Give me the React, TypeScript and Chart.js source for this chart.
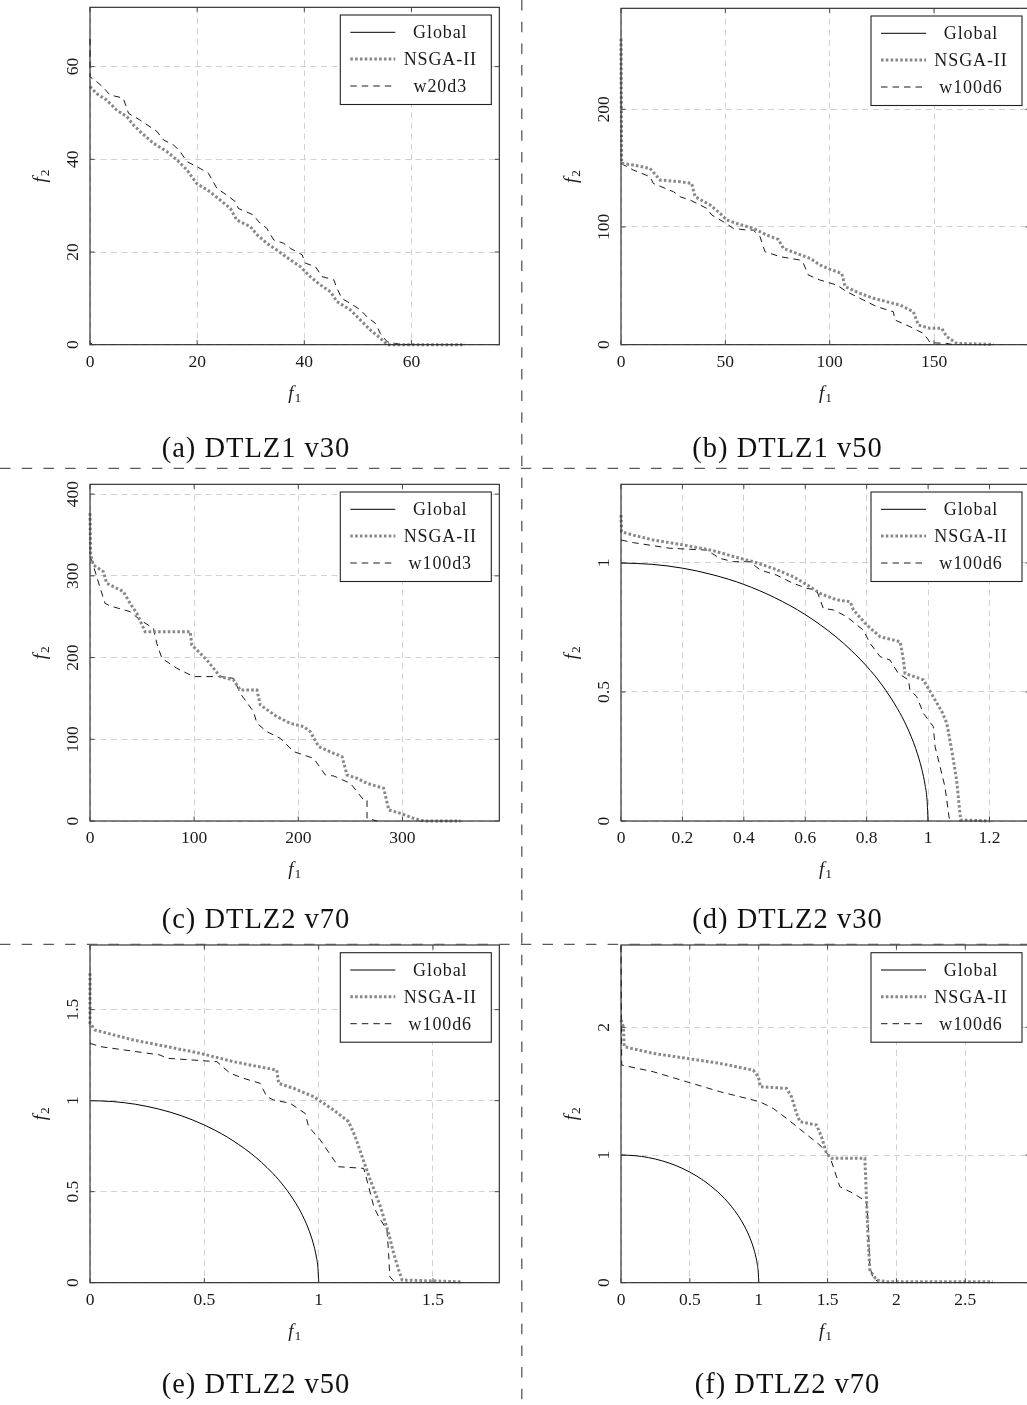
import React, { useEffect, useRef } from 'react';
import { Chart, registerables } from 'chart.js';

Chart.register(...registerables);

// ---------- text ----------
const SERIES_LABELS = ['Global', 'NSGA-II'];
const W_LABELS = ['w20d3', 'w100d6', 'w100d3', 'w100d6', 'w100d6', 'w100d6'];
const CAPTIONS = ['(a) DTLZ1 v30', '(b) DTLZ1 v50', '(c) DTLZ2 v70', '(d) DTLZ2 v30', '(e) DTLZ2 v50', '(f) DTLZ2 v70'];

// ---------- axes ----------
const X_MAX = [76.4, 196, 393, 1.332, 1.79, 2.97];
const Y_MAX = [72.8, 285.8, 412, 1.305, 1.855, 2.645];
const X_TICKS = [[0, 20, 40, 60], [0, 50, 100, 150], [0, 100, 200, 300], [0, 0.2, 0.4, 0.6, 0.8, 1, 1.2], [0, 0.5, 1, 1.5], [0, 0.5, 1, 1.5, 2, 2.5]];
const Y_TICKS = [[0, 20, 40, 60], [0, 100, 200], [0, 100, 200, 300, 400], [0, 0.5, 1], [0, 0.5, 1, 1.5], [0, 1, 2]];

// ---------- data: [f1, f2] ----------
const DTLZ1_GLOBAL = [[0, 0.5], [0.5, 0]];
const DTLZ2_GLOBAL = [[0, 1], [0.1, 0.995], [0.2, 0.98], [0.3, 0.954], [0.4, 0.917], [0.5, 0.866], [0.6, 0.8], [0.7, 0.714], [0.75, 0.661], [0.8, 0.6], [0.85, 0.527], [0.9, 0.436], [0.93, 0.368], [0.96, 0.28], [0.98, 0.199], [0.99, 0.141], [0.997, 0.077], [1, 0]];

const A_NSGA = [[0, 55.7], [1.2, 54.2], [3.1, 52.8], [5, 50.6], [6.9, 49.2], [8.1, 47.4], [10, 45.3], [11.8, 43.5], [14.3, 41.7], [16.2, 39.9], [18.1, 37.7], [19.9, 34.8], [22.4, 33], [24.3, 31.2], [26.2, 29.4], [27.4, 26.9], [29.9, 25.5], [31.2, 23.7], [33, 21.9], [34.9, 20.4], [37.4, 18.3], [39.3, 16.8], [41.1, 14.7], [43, 12.9], [44.9, 11.4], [46.1, 9.3], [48.6, 7.5], [50.5, 5.3], [52.3, 3.2], [54.2, 1.4], [55.5, 0], [70, 0]];
const A_W = [[0, 66], [0, 57.8], [1.2, 56.8], [2.5, 55.5], [3.7, 53.9], [6.2, 53.2], [7.2, 49.9], [9.3, 48.5], [12.5, 46], [13.7, 44.2], [15.6, 43.1], [16.8, 41.7], [18.1, 39.5], [20.6, 38], [22.1, 37], [23.7, 33.7], [25.5, 32.3], [27.1, 30.9], [27.7, 29.4], [30.5, 28], [31.5, 26.5], [33, 25.1], [34.3, 22.6], [36.1, 21.9], [37.4, 20.8], [39.6, 19.4], [40.2, 17.6], [42.1, 16.8], [43.3, 14.7], [45.5, 14], [46.1, 12.2], [47, 10], [48.6, 8.9], [50.5, 7.5], [51.7, 6], [53.3, 4.6], [54.2, 2.4], [55.5, 0.6], [57.9, 0.1], [60.4, 0]];

const B_NSGA = [[0, 260], [0.3, 154], [5.9, 152.6], [13.9, 149.8], [18.7, 139.9], [28.3, 138.5], [33.9, 137], [35.5, 125.7], [42.7, 118.7], [47.5, 111.6], [50.7, 105.9], [55.5, 103], [63.4, 98.8], [69.8, 93.2], [75.4, 89.5], [77.8, 81.8], [84.2, 77.6], [90.6, 73.3], [95.4, 67.7], [100.2, 64], [105.8, 60.6], [107.4, 49.3], [114.6, 43.6], [121, 39.4], [127.4, 36.5], [133.7, 33.7], [140.1, 28], [142.5, 16.7], [148.1, 13.9], [153.7, 13.9], [156.1, 6.8], [160.9, 1.1], [178.5, 0.3]];
const B_W = [[0, 154], [5.9, 148.4], [13.9, 142.7], [15.5, 137], [25.1, 130], [28.3, 125.7], [33.1, 122.9], [37.9, 118.7], [41.1, 115.8], [43.5, 110.2], [49, 104.5], [53.9, 98.8], [60.2, 97.4], [63.4, 97.4], [66.6, 91.8], [69, 79], [76.2, 74.8], [85.8, 71.9], [87.4, 69.1], [89.8, 59.2], [95.4, 54.9], [103.4, 50.7], [108.2, 45], [116.2, 37.9], [122.6, 32.3], [130.5, 28], [131.3, 21], [138.5, 15.3], [144.9, 9.6], [147.3, 4], [148.1, 1.7], [156.1, 1.1], [159.3, 0]];

const C_NSGA = [[0, 376.6], [0.6, 325.6], [3.2, 313.3], [12.8, 305.2], [16, 290.9], [32, 280.7], [38.5, 266.4], [44.9, 254.2], [52.9, 231.7], [96.2, 231.7], [97.8, 215.4], [112.2, 197], [125, 176.7], [137.8, 172.6], [144.2, 160.3], [160.3, 160.3], [163.5, 142], [179.5, 127.7], [192.3, 119.5], [205.1, 115.5], [211.5, 109.3], [219.6, 91], [234, 82.8], [242, 78.7], [246.8, 56.3], [256.4, 52.2], [266, 46.1], [282, 40], [286.9, 13.5], [298.1, 9.4], [310.9, 3.3], [320.5, 0], [355.8, 0]];
const C_W = [[0, 322], [1.6, 319.5], [6.4, 299], [14.4, 266.4], [19.2, 263.2], [38.5, 256.2], [48.1, 246], [60.9, 235.8], [64.1, 217.5], [69, 199.1], [83.3, 186.9], [99.4, 176.7], [125, 176.7], [137.8, 174.6], [144.2, 156.3], [157, 133.8], [160.3, 119.5], [169.9, 109.3], [182.7, 101.2], [195.5, 84.9], [214.7, 76.7], [226, 56.3], [234, 55.1], [250, 46.1], [262.8, 25.7], [266, 25.7], [266, 3.3], [275.6, 0]];

const D_NSGA = [[0, 1.186], [0.002, 1.121], [0.04, 1.108], [0.105, 1.089], [0.203, 1.07], [0.279, 1.053], [0.312, 1.044], [0.366, 1.025], [0.431, 1.005], [0.496, 0.979], [0.561, 0.947], [0.616, 0.908], [0.648, 0.882], [0.702, 0.857], [0.746, 0.85], [0.757, 0.818], [0.8, 0.76], [0.844, 0.714], [0.909, 0.695], [0.92, 0.624], [0.925, 0.572], [0.985, 0.547], [1.001, 0.514], [1.045, 0.424], [1.061, 0.379], [1.077, 0.275], [1.093, 0.159], [1.106, 0.004], [1.202, 0]];
const D_W = [[0, 1.089], [0.04, 1.079], [0.16, 1.057], [0.279, 1.05], [0.322, 1.018], [0.366, 1.005], [0.42, 1.005], [0.453, 0.973], [0.507, 0.953], [0.561, 0.921], [0.605, 0.902], [0.637, 0.895], [0.659, 0.824], [0.692, 0.818], [0.735, 0.792], [0.768, 0.76], [0.789, 0.74], [0.811, 0.689], [0.844, 0.637], [0.876, 0.624], [0.903, 0.572], [0.936, 0.547], [0.941, 0.508], [0.963, 0.482], [0.985, 0.417], [1.017, 0.366], [1.023, 0.288], [1.055, 0.133], [1.069, 0.01], [1.08, 0]];

const E_NSGA = [[0, 1.7], [0, 1.425], [0.022, 1.388], [0.19, 1.333], [0.336, 1.297], [0.482, 1.26], [0.628, 1.214], [0.773, 1.178], [0.817, 1.168], [0.825, 1.095], [0.89, 1.068], [0.978, 1.022], [1.065, 0.949], [1.131, 0.885], [1.16, 0.802], [1.19, 0.692], [1.226, 0.564], [1.27, 0.418], [1.306, 0.271], [1.328, 0.161], [1.35, 0.07], [1.365, 0.015], [1.62, 0.005]];
const E_W = [[0, 1.315], [0.044, 1.297], [0.306, 1.251], [0.336, 1.233], [0.555, 1.214], [0.613, 1.15], [0.671, 1.123], [0.744, 1.095], [0.773, 1.022], [0.803, 1.004], [0.876, 0.985], [0.941, 0.93], [0.956, 0.857], [1.007, 0.784], [1.087, 0.637], [1.197, 0.628], [1.219, 0.527], [1.241, 0.418], [1.262, 0.363], [1.299, 0.289], [1.306, 0.161], [1.311, 0.033], [1.335, 0]];

const F_NSGA = [[0, 2.06], [0.017, 2.005], [0.024, 1.848], [0.235, 1.796], [0.477, 1.757], [0.718, 1.718], [0.96, 1.665], [0.997, 1.613], [1.013, 1.535], [1.202, 1.522], [1.238, 1.457], [1.275, 1.326], [1.299, 1.261], [1.42, 1.235], [1.456, 1.143], [1.492, 1.013], [1.529, 0.974], [1.771, 0.974], [1.783, 0.647], [1.795, 0.334], [1.807, 0.099], [1.855, 0.021], [1.928, 0.008], [2.7, 0.008]];
const F_W = [[0, 2.64], [0.005, 1.705], [0.235, 1.652], [0.477, 1.574], [0.718, 1.496], [1.009, 1.417], [1.105, 1.365], [1.202, 1.287], [1.323, 1.182], [1.444, 1.078], [1.517, 0.987], [1.589, 0.752], [1.686, 0.7], [1.783, 0.634], [1.795, 0.465], [1.807, 0.125], [1.831, 0.034], [1.867, 0.008]];

const GLOBALS = [DTLZ1_GLOBAL, DTLZ1_GLOBAL, DTLZ2_GLOBAL, DTLZ2_GLOBAL, DTLZ2_GLOBAL, DTLZ2_GLOBAL];
const NSGAS = [A_NSGA, B_NSGA, C_NSGA, D_NSGA, E_NSGA, F_NSGA];
const WS = [A_W, B_W, C_W, D_W, E_W, F_W];

// ---------- layout (page pixels) ----------
const PANELS = [
  { cl: 0, ct: 0, w: 520, h: 420, l: 90, t: 7.3, r: 499.3, b: 344.7 },
  { cl: 520, ct: 0, w: 515, h: 420, l: 621, t: 8.3, r: 1030, b: 344.7 },
  { cl: 0, ct: 472, w: 520, h: 420, l: 90, t: 484.3, r: 499.3, b: 821 },
  { cl: 520, ct: 472, w: 515, h: 420, l: 621, t: 484.3, r: 1030, b: 821 },
  { cl: 0, ct: 938, w: 520, h: 420, l: 90, t: 945, r: 499.3, b: 1282.7 },
  { cl: 520, ct: 938, w: 515, h: 420, l: 621, t: 945, r: 1030, b: 1282.7 },
];
const CAPTION_X = [256, 787.5];
const CAPTION_Y = [456.5, 927.5, 1392.5];

const SERIF = '"Liberation Serif", "Times New Roman", serif';
const STYLE_GLOBAL = { color: '#000000', width: 1, dash: [] as number[] };
const STYLE_NSGA = { color: '#888888', width: 3, dash: [2.6, 2.2] };
const STYLE_W = { color: '#000000', width: 0.9, dash: [6.5, 5] };

const fmt = (v: number) => String(Math.round(v * 1000) / 1000);
const toXY = (arr: number[][]) => arr.map(([x, y]) => ({ x, y }));

function drawSubLabel(ctx: CanvasRenderingContext2D, main: string, sub: string, x: number, y: number) {
  ctx.font = 'italic 19px ' + SERIF;
  const wm = ctx.measureText(main).width;
  ctx.font = '13.5px ' + SERIF;
  const ws = ctx.measureText(sub).width;
  const start = x - (wm + ws + 1) / 2;
  ctx.textAlign = 'left';
  ctx.textBaseline = 'alphabetic';
  ctx.font = 'italic 19px ' + SERIF;
  ctx.fillText(main, start, y);
  ctx.font = '13.5px ' + SERIF;
  ctx.fillText(sub, start + wm + 1, y + 3);
}

const decorPlugin = {
  id: 'decor',
  afterDraw(chart: any) {
    const { ctx, chartArea: ca, scales } = chart;
    const xs = scales.x;
    const ys = scales.y;
    ctx.save();
    ctx.setLineDash([]);
    // frame
    ctx.strokeStyle = '#222';
    ctx.lineWidth = 1.1;
    ctx.strokeRect(ca.left, ca.top, ca.right - ca.left, ca.bottom - ca.top);
    // inner tick marks
    ctx.strokeStyle = '#444';
    ctx.lineWidth = 1;
    ctx.beginPath();
    xs.ticks.forEach((t: any) => {
      const px = xs.getPixelForValue(t.value);
      ctx.moveTo(px, ca.bottom); ctx.lineTo(px, ca.bottom - 4.5);
      ctx.moveTo(px, ca.top); ctx.lineTo(px, ca.top + 4.5);
    });
    ys.ticks.forEach((t: any) => {
      const py = ys.getPixelForValue(t.value);
      ctx.moveTo(ca.left, py); ctx.lineTo(ca.left + 4.5, py);
      ctx.moveTo(ca.right, py); ctx.lineTo(ca.right - 4.5, py);
    });
    ctx.stroke();
    // tick labels
    ctx.fillStyle = '#1a1a1a';
    ctx.font = '17.5px ' + SERIF;
    ctx.textAlign = 'center';
    ctx.textBaseline = 'alphabetic';
    xs.ticks.forEach((t: any) => {
      ctx.fillText(fmt(t.value), xs.getPixelForValue(t.value), ca.bottom + 22);
    });
    ys.ticks.forEach((t: any) => {
      ctx.save();
      ctx.translate(ca.left - 12, ys.getPixelForValue(t.value));
      ctx.rotate(-Math.PI / 2);
      ctx.fillText(fmt(t.value), 0, 0);
      ctx.restore();
    });
    // axis titles
    drawSubLabel(ctx, 'f', '1', (ca.left + ca.right) / 2, ca.bottom + 54);
    ctx.save();
    ctx.translate(ca.left - 44, (ca.top + ca.bottom) / 2);
    ctx.rotate(-Math.PI / 2);
    drawSubLabel(ctx, 'f', '2', 0, 0);
    ctx.restore();
    // legend
    const bw = 151;
    const bh = 89.5;
    const bx = ca.right - 8 - bw;
    const by = ca.top + 7.7;
    ctx.fillStyle = '#ffffff';
    ctx.fillRect(bx, by, bw, bh);
    ctx.strokeStyle = '#222';
    ctx.lineWidth = 1.1;
    ctx.strokeRect(bx, by, bw, bh);
    const rows = [17.3, 44, 71];
    chart.data.datasets.forEach((ds: any, i: number) => {
      const ry = by + rows[i];
      ctx.save();
      ctx.strokeStyle = ds.borderColor;
      ctx.lineWidth = ds.borderWidth;
      ctx.setLineDash(ds.borderDash || []);
      ctx.beginPath();
      ctx.moveTo(bx + 10, ry);
      ctx.lineTo(bx + 55, ry);
      ctx.stroke();
      ctx.restore();
      ctx.fillStyle = '#1a1a1a';
      ctx.font = '18px ' + SERIF;
      (ctx as any).letterSpacing = '0.9px';
      ctx.textAlign = 'center';
      ctx.fillText(ds.label, bx + 100, ry + 5.8);
      (ctx as any).letterSpacing = '0px';
    });
    ctx.restore();
  },
};

function makeDataset(label: string, data: number[][], st: any, smooth: boolean) {
  return {
    label,
    data: toXY(data),
    borderColor: st.color,
    borderWidth: st.width,
    borderDash: st.dash,
    borderCapStyle: 'butt',
    showLine: true,
    fill: false,
    pointRadius: 0,
    pointHoverRadius: 0,
    cubicInterpolationMode: smooth ? 'monotone' : 'default',
    tension: 0,
    clip: 3,
  };
}

function Panel({ idx }: { idx: number }) {
  const ref = useRef<HTMLCanvasElement>(null);
  const p = PANELS[idx];
  useEffect(() => {
    const gridColor = '#d2d2d2';
    const chart = new Chart(ref.current as HTMLCanvasElement, {
      type: 'scatter',
      data: {
        datasets: [
          makeDataset(SERIES_LABELS[0], GLOBALS[idx], STYLE_GLOBAL, true),
          makeDataset(SERIES_LABELS[1], NSGAS[idx], STYLE_NSGA, false),
          makeDataset(W_LABELS[idx], WS[idx], STYLE_W, false),
        ] as any,
      },
      options: {
        responsive: false,
        animation: false,
        events: [],
        layout: {
          padding: { top: p.t - p.ct, right: p.cl + p.w - p.r, left: 0, bottom: 0 },
        },
        plugins: { legend: { display: false }, tooltip: { enabled: false } },
        scales: {
          x: {
            type: 'linear',
            min: 0,
            max: X_MAX[idx],
            ticks: { display: false },
            afterBuildTicks: (s: any) => { s.ticks = X_TICKS[idx].map((v) => ({ value: v })); },
            grid: { color: gridColor, lineWidth: 1, drawTicks: false },
            border: { display: false, dash: [6, 4.5] },
            afterFit: (s: any) => { s.height = p.ct + p.h - p.b; },
          },
          y: {
            type: 'linear',
            min: 0,
            max: Y_MAX[idx],
            ticks: { display: false },
            afterBuildTicks: (s: any) => { s.ticks = Y_TICKS[idx].map((v) => ({ value: v })); },
            grid: { color: gridColor, lineWidth: 1, drawTicks: false },
            border: { display: false, dash: [6, 4.5] },
            afterFit: (s: any) => { s.width = p.l - p.cl; },
          },
        },
      } as any,
      plugins: [decorPlugin],
    });
    return () => chart.destroy();
  }, [idx]);
  return (
    <canvas
      ref={ref}
      width={p.w}
      height={p.h}
      style={{ position: 'absolute', left: p.cl, top: p.ct, width: p.w, height: p.h }}
    />
  );
}

function Overlay() {
  const ref = useRef<HTMLCanvasElement>(null);
  useEffect(() => {
    const c = ref.current as HTMLCanvasElement;
    const ctx = c.getContext('2d') as CanvasRenderingContext2D;
    ctx.clearRect(0, 0, c.width, c.height);
    ctx.strokeStyle = '#5a5a5a';
    ctx.lineWidth = 1.3;
    ctx.setLineDash([10.5, 11.2]);
    ctx.beginPath();
    ctx.moveTo(521.8, 0); ctx.lineTo(521.8, 1405);
    ctx.moveTo(0, 468.3); ctx.lineTo(1027, 468.3);
    ctx.moveTo(0, 944.3); ctx.lineTo(1027, 944.3);
    ctx.stroke();
    ctx.setLineDash([]);
    ctx.fillStyle = '#111';
    ctx.font = '28.5px ' + SERIF;
    (ctx as any).letterSpacing = '1px';
    ctx.textAlign = 'center';
    ctx.textBaseline = 'alphabetic';
    CAPTIONS.forEach((t, i) => {
      ctx.fillText(t, CAPTION_X[i % 2], CAPTION_Y[Math.floor(i / 2)]);
    });
  }, []);
  return (
    <canvas
      ref={ref}
      width={1027}
      height={1405}
      style={{ position: 'absolute', left: 0, top: 0, width: 1027, height: 1405, pointerEvents: 'none' }}
    />
  );
}

export default function App() {
  return (
    <div
      style={{
        position: 'absolute',
        left: 0,
        top: 0,
        width: 1027,
        height: 1405,
        overflow: 'hidden',
        background: '#ffffff',
      }}
    >
      {PANELS.map((_, i) => (
        <Panel key={i} idx={i} />
      ))}
      <Overlay />
    </div>
  );
}
